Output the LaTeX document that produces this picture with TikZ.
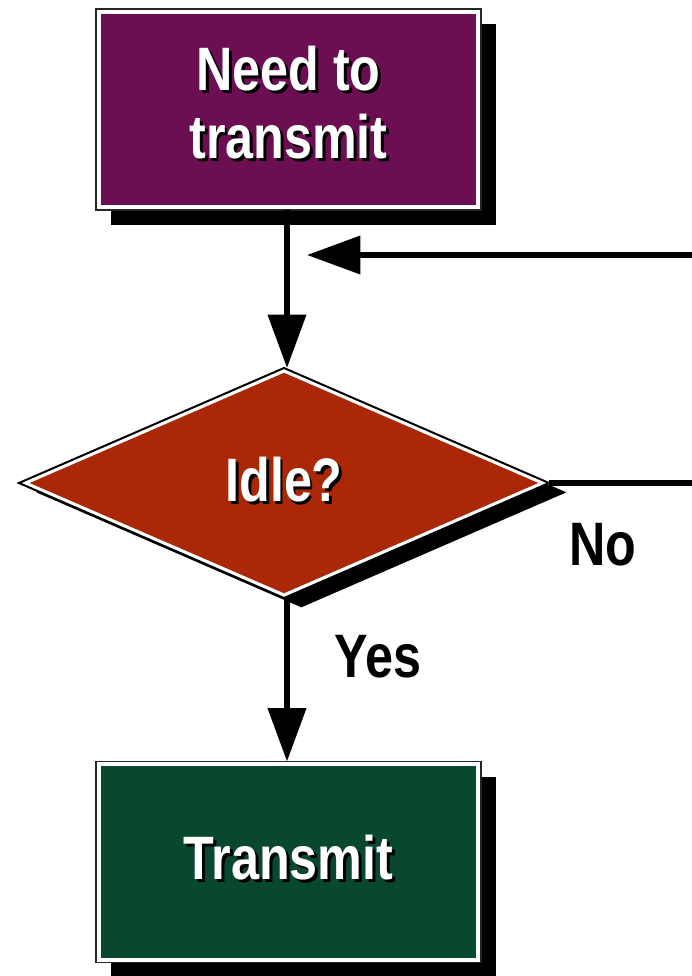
\documentclass[tikz,border=0pt]{standalone}
\usepackage{fontspec}
\setmainfont{Liberation Sans}[FakeStretch=0.82]
\usetikzlibrary{shapes.geometric,arrows.meta}
\definecolor{boxpurple}{RGB}{108,14,82}
\definecolor{boxred}{RGB}{170,40,8}
\definecolor{boxgreen}{RGB}{8,72,46}
\newcommand{\shadowed}[1]{\rlap{\kern2.2pt\raisebox{-2.2pt}{\color{black}\begin{tabular}{@{}c@{}}#1\end{tabular}}}\begin{tabular}{@{}c@{}}#1\end{tabular}}
\newcommand{\lowered}[2]{\raisebox{-#1}[\height][\depth]{#2}}
\pgfdeclarelayer{background}
\pgfsetlayers{background,main}
\tikzset{
  bigfont/.style={font=\fontsize{46}{51}\selectfont\bfseries},
  procbox/.style={rectangle, draw=black!85, line width=1.4pt, fill=white,
    minimum width=288.75pt, minimum height=150.75pt, inner sep=0pt, outer sep=0pt,
    bigfont, text=white,
    path picture={\fill[#1] ([shift={(3.6pt,3.6pt)}]path picture bounding box.south west)
      rectangle ([shift={(-3.6pt,-3.6pt)}]path picture bounding box.north east);}},
  decbox/.style={diamond, draw=black, line width=1.5pt, fill=white,
    minimum width=397.5pt, minimum height=172.5pt, inner sep=0pt, outer sep=0pt,
    bigfont, text=white,
    path picture={\fill[#1]
      ([xshift=8pt]path picture bounding box.west) --
      ([yshift=-3.6pt]path picture bounding box.north) --
      ([xshift=-8pt]path picture bounding box.east) --
      ([yshift=3.6pt]path picture bounding box.south) -- cycle;}},
  conn/.style={line width=4.5pt},
  arr/.style={conn, -{Triangle[length=40pt,width=28pt]}},
  lbl/.style={bigfont, text=black, anchor=base},
  shadowfill/.style={fill=black}
}
\begin{document}
\begin{tikzpicture}[x=0.75pt,y=-0.75pt]
\useasboundingbox (0,0) rectangle (692,976);
% nodes
\node[procbox=boxpurple] (need) at (288.5,109.5) {\lowered{2pt}{\shadowed{Need to\\transmit}}};
\node[decbox=boxred] (idle) at (284,483) {\lowered{5pt}{\shadowed{Idle?}}};
\node[procbox=boxgreen] (tx) at (288.5,862) {\lowered{4pt}{\shadowed{Transmit}}};
% shadows
\begin{pgfonlayer}{background}
\fill[shadowfill] ([shift={(11.25pt,-11.25pt)}]need.south west) rectangle ([shift={(11.25pt,-11.25pt)}]need.north east);
\fill[shadowfill] ([shift={(11.25pt,-11.25pt)}]tx.south west) rectangle ([shift={(11.25pt,-11.25pt)}]tx.north east);
\fill[shadowfill] ([shift={(13pt,-7pt)}]idle.north) -- ([shift={(13pt,-7pt)}]idle.east) -- ([shift={(13pt,-7pt)}]idle.south) -- ([shift={(13pt,-7pt)}]idle.west) -- cycle;
\end{pgfonlayer}
% connectors
\coordinate (noend) at (700,483);
\coordinate (backstart) at (700,255);
\coordinate (backtip) at (307,255);
\draw[arr] (need.south -| 287,0) -- (idle.north -| 287,0);
\draw[arr] (idle.south -| 287,0) -- (tx.north -| 287,0);
\draw[conn] (idle.east) -- (noend);
\draw[arr] (backstart) -- (backtip);
% labels
\node[lbl] (no) at (603,565) {No};
\node[lbl] (yes) at (378,677) {Yes};
\end{tikzpicture}
\end{document}
